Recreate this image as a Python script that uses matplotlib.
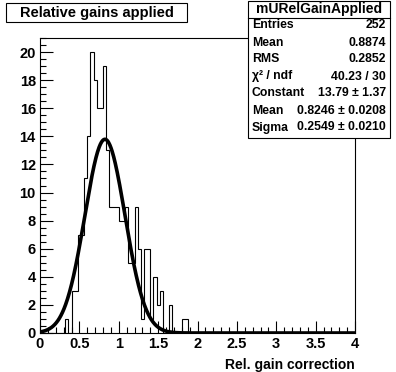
import matplotlib
matplotlib.use("Agg")
import matplotlib.pyplot as plt
import numpy as np
from matplotlib.patches import Rectangle
from matplotlib.ticker import MultipleLocator

plt.rcParams['font.family'] = ['Liberation Sans', 'DejaVu Sans']
plt.rcParams['font.weight'] = 'bold'

# histogram: 100 bins over [0, 4], counts
edges = np.linspace(0, 4, 101)
counts = np.zeros(100)
filled = {8: 1, 10: 3, 11: 3, 12: 7, 13: 7, 14: 11, 15: 14, 16: 20, 17: 18,
          18: 16, 19: 16, 20: 19, 21: 13, 22: 9, 23: 9, 24: 9, 25: 8, 26: 8,
          27: 9, 28: 5, 29: 5, 30: 9, 31: 6, 32: 1, 33: 6, 34: 6, 35: 1, 36: 4,
          37: 2, 38: 3, 41: 2, 45: 1, 46: 1}
for k, v in filled.items():
    counts[k] = v

# gaussian fit parameters (from the stats box)
fit_const = 13.79
fit_mean = 0.8246
fit_sigma = 0.2549

stat_labels = ["Entries", "Mean", "RMS", "χ² / ndf", "Constant", "Mean", "Sigma"]
stat_values = ["252", "0.8874", "0.2852", "40.23 / 30", "13.79 ± 1.37",
               "0.8246 ± 0.0208", "0.2549 ± 0.0210"]

W, H = 396, 372
fig = plt.figure(figsize=(W / 100, H / 100), dpi=100)

def fx(px):
    return px / W

def fy(py):
    return 1 - py / H

# main frame in pixels: left 40, right 355, top 38, bottom 333
ax = fig.add_axes([fx(40), fy(333), (355 - 40) / W, (333 - 38) / H])
ax.stairs(counts, edges, color='black', lw=0.8)
xs = np.linspace(0, 4, 800)
ax.plot(xs, fit_const * np.exp(-0.5 * ((xs - fit_mean) / fit_sigma) ** 2),
        color='black', lw=2.6)
ax.set_xlim(0, 4)
ax.set_ylim(0, 21)
ax.xaxis.set_minor_locator(MultipleLocator(0.1))
ax.yaxis.set_major_locator(MultipleLocator(2))
ax.yaxis.set_minor_locator(MultipleLocator(0.5))
ax.set_xticks([0, 0.5, 1, 1.5, 2, 2.5, 3, 3.5, 4])
ax.set_xticklabels(["0", "0.5", "1", "1.5", "2", "2.5", "3", "3.5", "4"])
ax.tick_params(which='major', direction='in', length=9, width=0.8,
               labelsize=10.5, pad=3, top=False, right=False)
ax.tick_params(which='minor', direction='in', length=4.5, width=0.8,
               top=False, right=False)
for s in ax.spines.values():
    s.set_linewidth(0.8)
ax.set_xlabel("Rel. gain correction", fontsize=10, fontweight='bold')
ax.xaxis.set_label_coords(1.0, -0.085)
ax.xaxis.label.set_horizontalalignment('right')

# title box
fig.patches.append(Rectangle((fx(6), fy(22)), (187 - 6) / W, (22 - 3) / H,
                             transform=fig.transFigure, fill=True,
                             facecolor='white', edgecolor='black', lw=0.8))
fig.text(fx(96.5), fy(12.5), "Relative gains applied", ha='center', va='center',
         fontsize=10.5, fontweight='bold')

# stats box
bx0, bx1, by0, by1 = 248, 390, 1, 138
fig.patches.append(Rectangle((fx(bx0), fy(by1)), (bx1 - bx0) / W, (by1 - by0) / H,
                             transform=fig.transFigure, facecolor='white',
                             edgecolor='black', lw=0.8, zorder=5))
fig.add_artist(plt.Line2D([fx(bx0), fx(bx1)], [fy(18), fy(18)], color='black',
                          lw=0.8, transform=fig.transFigure, zorder=6))
fig.text(fx((bx0 + bx1) / 2), fy(9.5), "mURelGainApplied", ha='center', va='center',
         fontsize=10, fontweight='bold', zorder=7)
row_y = [25, 42.5, 59.5, 76.5, 93.5, 110.5, 127.5]
for lab, val, ry in zip(stat_labels, stat_values, row_y):
    fig.text(fx(bx0 + 4), fy(ry), lab, ha='left', va='center', fontsize=8.8,
             fontweight='bold', zorder=7)
    fig.text(fx(bx1 - 4), fy(ry), val, ha='right', va='center', fontsize=8.8,
             fontweight='bold', zorder=7)

fig.savefig("out.png", dpi=100)
